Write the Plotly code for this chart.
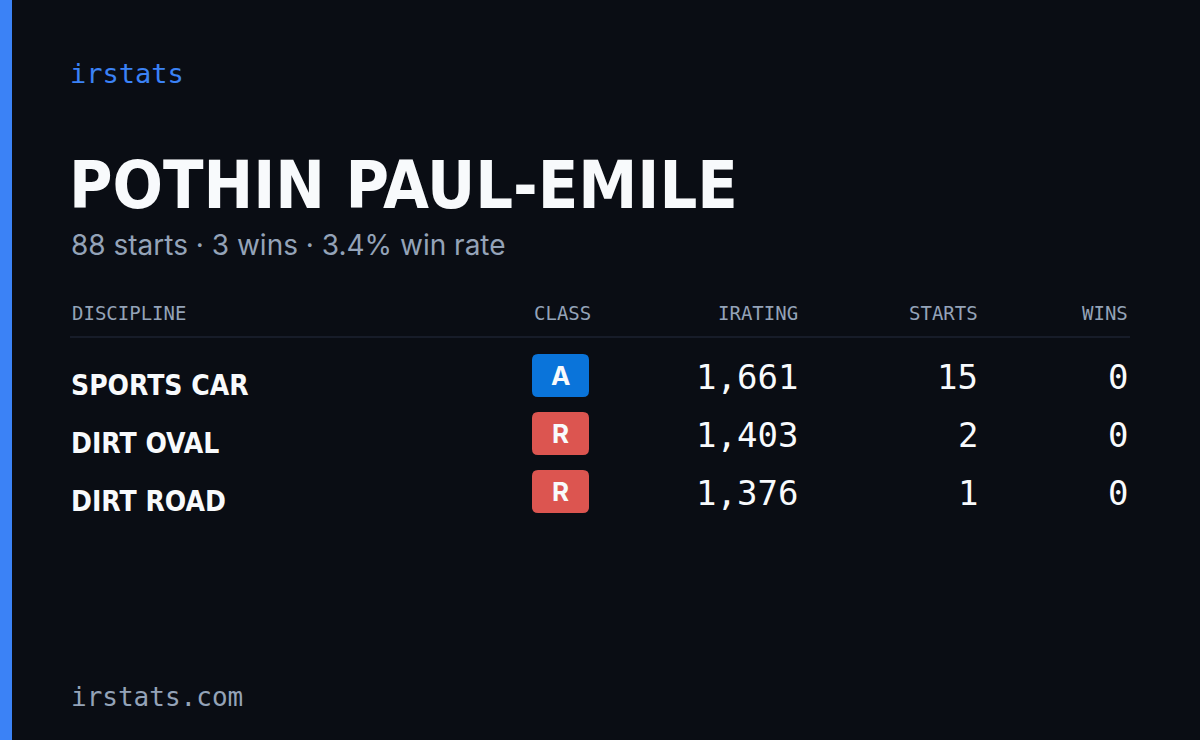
import plotly.graph_objects as go

disciplines = ["SPORTS CAR", "DIRT OVAL", "DIRT ROAD"]
classes = ["A", "R", "R"]
iratings = [1661, 1403, 1376]
starts = [15, 2, 1]
wins = [0, 0, 0]
headers = ["DISCIPLINE", "CLASS", "IRATING", "STARTS", "WINS"]
driver = "POTHIN PAUL-EMILE"
total_starts, total_wins = 88, 3

BG = "#0a0d14"
MUTED = "#94a3b8"
WHITE = "#f8fafc"
CLASS_COLORS = {"A": "#0a74da", "R": "#dc5550"}
MONO = "DejaVu Sans Mono"
COND = "DejaVu Sans Condensed"

fig = go.Figure()
ann = []
shapes = []


def txt(x, y, s, size, color, font, anchor="left", bold=False):
    ann.append(dict(x=x, y=y, text=f"<b>{s}</b>" if bold else s, xref="x", yref="y",
                    showarrow=False, xanchor=anchor, yanchor="middle",
                    font=dict(size=size, color=color, family=font)))


# left accent bar
shapes.append(dict(type="rect", x0=0, x1=12, y0=0, y1=740, fillcolor="#3b82f6", line_width=0))

txt(68, 73, "irstats", 27, "#3b82f6", MONO)
txt(67, 185, driver, 66, WHITE, COND, bold=True)
rate = total_wins / total_starts * 100
txt(69, 245, f"{total_starts} starts · {total_wins} wins · {rate:.1f}% win rate", 28, MUTED, "Inter")

hx = [(70, "left"), (593, "right"), (800, "right"), (980, "right"), (1130, "right")]
for (x, a), h in zip(hx, headers):
    txt(x, 313, h, 19, MUTED, MONO, a)
shapes.append(dict(type="line", x0=70, x1=1130, y0=337, y1=337, line=dict(color="#1c2230", width=1.5)))

for i, d in enumerate(disciplines):
    y = 377 + i * 58
    txt(69, y + 8, d, 28, WHITE, COND, bold=True)
    c = classes[i]
    x0, x1, y0, y1, r = 532, 589, y - 23, y + 20, 6
    path = (f"M{x0+r},{y0} L{x1-r},{y0} Q{x1},{y0} {x1},{y0+r} L{x1},{y1-r} Q{x1},{y1} {x1-r},{y1} "
            f"L{x0+r},{y1} Q{x0},{y1} {x0},{y1-r} L{x0},{y0+r} Q{x0},{y0} {x0+r},{y0} Z")
    shapes.append(dict(type="path", path=path, fillcolor=CLASS_COLORS[c], line_width=0, layer="below"))
    txt((x0 + x1) / 2, y - 2, c, 26, WHITE, "Inter", "center", bold=True)
    txt(800, y, f"{iratings[i]:,}", 34, WHITE, MONO, "right")
    txt(980, y, str(starts[i]), 34, WHITE, MONO, "right")
    txt(1130, y, str(wins[i]), 34, WHITE, MONO, "right")

txt(69, 697, "irstats.com", 26, MUTED, MONO)

fig.update_layout(
    width=1200, height=740, margin=dict(l=0, r=0, t=0, b=0),
    paper_bgcolor=BG, plot_bgcolor=BG, showlegend=False,
    xaxis=dict(range=[0, 1200], visible=False, fixedrange=True),
    yaxis=dict(range=[740, 0], visible=False, fixedrange=True),
    annotations=ann, shapes=shapes,
)
fig.write_html("out.html", config={"displayModeBar": False},
               post_script="document.body.style.margin='0';document.body.style.background='#0a0d14';")
